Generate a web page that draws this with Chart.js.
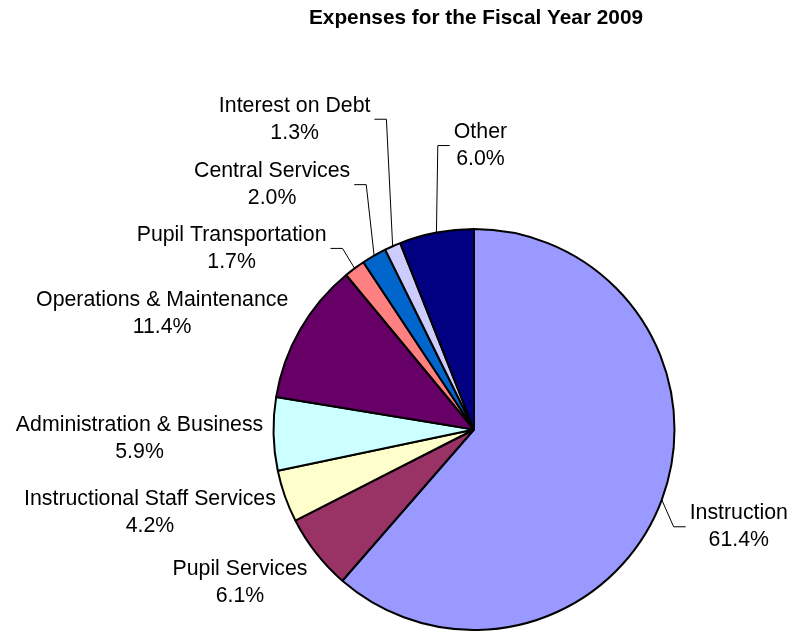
<!DOCTYPE html>
<html>
<head>
<meta charset="utf-8">
<script src="https://cdn.jsdelivr.net/npm/chart.js@4.4.0/dist/chart.umd.min.js"></script>
<style>
  html, body { margin: 0; padding: 0; background: #fff; }
  #wrap { width: 793px; height: 631px; }
</style>
</head>
<body>
<div id="wrap"><canvas id="grafico" width="793" height="631"></canvas></div>
<script>
const TITULO = 'Expenses for the Fiscal Year 2009';

const categorias = [
  'Instruction',
  'Pupil Services',
  'Instructional Staff Services',
  'Administration & Business',
  'Operations & Maintenance',
  'Pupil Transportation',
  'Central Services',
  'Interest on Debt',
  'Other'
];

const percentuais = [61.4, 6.1, 4.2, 5.9, 11.4, 1.7, 2.0, 1.3, 6.0];

const cores = [
  '#9999FF', '#993366', '#FFFFCC', '#CCFFFF', '#660066',
  '#FF8080', '#0066CC', '#CCCCFF', '#000080'
];

// deslocamento do centro do rotulo em relacao ao ponto do arco, e se tem linha guia
const deslocRotulo = [
  [77, 27], [-76, 30], [-135, 16], [-134, 5], [-138, -16],
  [-123, -20], [-102, -71], [-98, -127], [44, -87]
];
const temGuia = [true, false, false, false, false, true, true, true, true];

const FONTE_ROTULO = '21.3px "Liberation Sans", Arial, sans-serif';
const FONTE_TITULO = 'bold 20.8px "Liberation Sans", Arial, sans-serif';

const pluginRotulos = {
  id: 'rotulos',
  beforeDraw(chart) {
    const ctx = chart.ctx;
    ctx.save();
    ctx.fillStyle = '#fff';
    ctx.fillRect(0, 0, chart.width, chart.height);
    ctx.restore();
  },
  afterDraw(chart) {
    const ctx = chart.ctx;
    const arcos = chart.getDatasetMeta(0).data;
    ctx.save();

    ctx.font = FONTE_TITULO;
    ctx.fillStyle = '#000';
    ctx.textAlign = 'center';
    ctx.textBaseline = 'middle';
    ctx.fillText(TITULO, 476, 18);

    ctx.font = FONTE_ROTULO;
    arcos.forEach((arco, i) => {
      const p = arco.getProps(['x', 'y', 'startAngle', 'endAngle', 'outerRadius'], true);
      const meio = (p.startAngle + p.endAngle) / 2;
      const ax = p.x + Math.cos(meio) * p.outerRadius;
      const ay = p.y + Math.sin(meio) * p.outerRadius;
      const cx = ax + deslocRotulo[i][0];
      const cy = ay + deslocRotulo[i][1];

      const linha1 = categorias[i];
      const linha2 = percentuais[i].toFixed(1) + '%';
      const larg = Math.max(ctx.measureText(linha1).width, ctx.measureText(linha2).width);

      ctx.fillStyle = '#000';
      ctx.fillText(linha1, cx, cy - 13.5);
      ctx.fillText(linha2, cx, cy + 13.5);

      if (temGuia[i]) {
        const lado = ax > cx ? 1 : -1;
        const borda = cx + lado * larg / 2;
        const fim = borda + lado * 4;
        const cotovelo = borda + lado * 16;
        ctx.strokeStyle = '#000';
        ctx.lineWidth = 1;
        ctx.beginPath();
        ctx.moveTo(ax, ay);
        ctx.lineTo(cotovelo, cy);
        ctx.lineTo(fim, cy);
        ctx.stroke();
      }
    });
    ctx.restore();
  }
};

const grafico = new Chart(document.getElementById('grafico'), {
  type: 'pie',
  data: {
    labels: categorias,
    datasets: [{
      data: percentuais,
      backgroundColor: cores,
      borderColor: '#000',
      borderWidth: 2,
      borderJoinStyle: 'bevel'
    }]
  },
  options: {
    responsive: false,
    animation: false,
    devicePixelRatio: 1,
    layout: { padding: { left: 272, right: 117, top: 228, bottom: 0 } },
    plugins: {
      legend: { display: false },
      tooltip: { enabled: false }
    }
  },
  plugins: [pluginRotulos]
});
</script>
</body>
</html>
